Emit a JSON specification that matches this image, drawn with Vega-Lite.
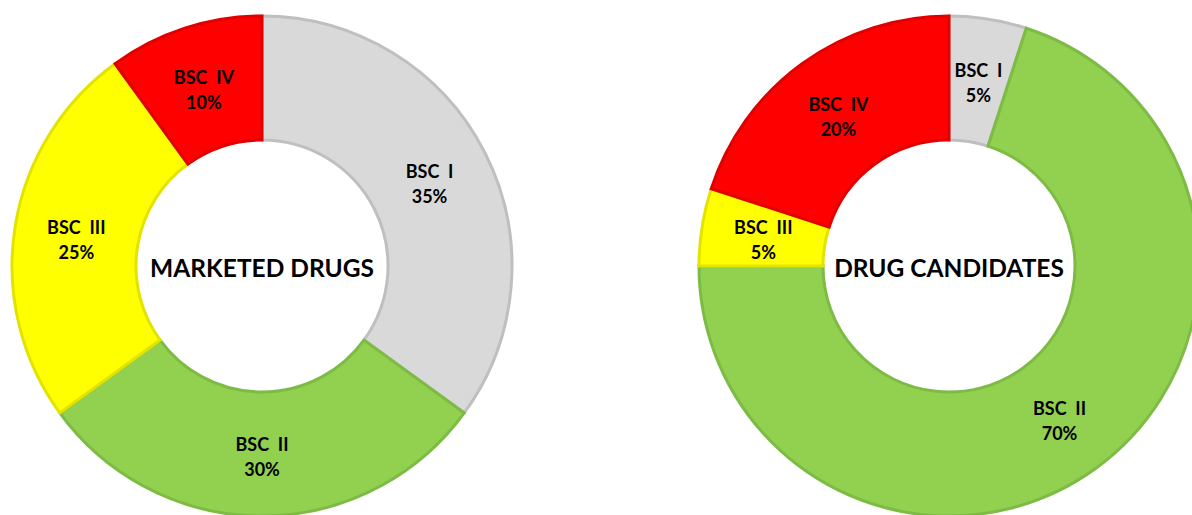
{
  "$schema": "https://vega.github.io/schema/vega-lite/v6.json",
  "padding": 0,
  "background": "white",
  "spacing": 163,
  "config": {
    "view": {"stroke": null},
    "text": {"font": "Lato", "fontWeight": "bold", "color": "#000000"}
  },
  "datasets": {
    "marketed": [
      {"cls": "BSC\u00a0\u00a0I", "share": 0.35},
      {"cls": "BSC\u00a0\u00a0II", "share": 0.30},
      {"cls": "BSC\u00a0\u00a0III", "share": 0.25},
      {"cls": "BSC\u00a0\u00a0IV", "share": 0.10}
    ],
    "candidates": [
      {"cls": "BSC\u00a0\u00a0I", "share": 0.05},
      {"cls": "BSC\u00a0\u00a0II", "share": 0.70},
      {"cls": "BSC\u00a0\u00a0III", "share": 0.05},
      {"cls": "BSC\u00a0\u00a0IV", "share": 0.20}
    ]
  },
  "hconcat": [
    {
      "width": 524,
      "height": 532,
      "layer": [
        {
          "data": {"name": "marketed"},
          "mark": {"type": "arc", "outerRadius": 250, "innerRadius": 126, "strokeWidth": 3},
          "encoding": {
            "theta": {"field": "share", "type": "quantitative", "stack": true},
            "order": {"field": "cls", "sort": "ascending"},
            "fill": {"field": "cls", "type": "nominal", "legend": null,
              "scale": {"domain": ["BSC\u00a0\u00a0I", "BSC\u00a0\u00a0II", "BSC\u00a0\u00a0III", "BSC\u00a0\u00a0IV"], "range": ["#D9D9D9", "#92D050", "#FFFF00", "#FF0000"]}},
            "stroke": {"field": "cls", "type": "nominal", "legend": null,
              "scale": {"domain": ["BSC\u00a0\u00a0I", "BSC\u00a0\u00a0II", "BSC\u00a0\u00a0III", "BSC\u00a0\u00a0IV"], "range": ["#BFBFBF", "#7DBB45", "#E3E300", "#E00000"]}}
          }
        },
        {
          "data": {"name": "marketed"},
          "mark": {"type": "text", "radius": 188, "dy": -8, "fontSize": 18},
          "encoding": {
            "theta": {"field": "share", "type": "quantitative", "stack": true},
            "order": {"field": "cls", "sort": "ascending"},
            "text": {"field": "cls", "type": "nominal"}
          }
        },
        {
          "data": {"name": "marketed"},
          "mark": {"type": "text", "radius": 188, "dy": 17, "fontSize": 18},
          "encoding": {
            "theta": {"field": "share", "type": "quantitative", "stack": true},
            "order": {"field": "cls", "sort": "ascending"},
            "text": {"field": "share", "type": "quantitative", "format": ".0%"}
          }
        },
        {
          "data": {"values": [{"title": "MARKETED DRUGS"}]},
          "mark": {"type": "text", "fontSize": 24.5, "dy": 4},
          "encoding": {"text": {"field": "title", "type": "nominal"}}
        }
      ]
    },
    {
      "width": 524,
      "height": 532,
      "layer": [
        {
          "data": {"name": "candidates"},
          "mark": {"type": "arc", "outerRadius": 250, "innerRadius": 126, "strokeWidth": 3},
          "encoding": {
            "theta": {"field": "share", "type": "quantitative", "stack": true},
            "order": {"field": "cls", "sort": "ascending"},
            "fill": {"field": "cls", "type": "nominal", "legend": null,
              "scale": {"domain": ["BSC\u00a0\u00a0I", "BSC\u00a0\u00a0II", "BSC\u00a0\u00a0III", "BSC\u00a0\u00a0IV"], "range": ["#D9D9D9", "#92D050", "#FFFF00", "#FF0000"]}},
            "stroke": {"field": "cls", "type": "nominal", "legend": null,
              "scale": {"domain": ["BSC\u00a0\u00a0I", "BSC\u00a0\u00a0II", "BSC\u00a0\u00a0III", "BSC\u00a0\u00a0IV"], "range": ["#BFBFBF", "#7DBB45", "#E3E300", "#E00000"]}}
          }
        },
        {
          "data": {"name": "candidates"},
          "mark": {"type": "text", "radius": 188, "dy": -8, "fontSize": 18},
          "encoding": {
            "theta": {"field": "share", "type": "quantitative", "stack": true},
            "order": {"field": "cls", "sort": "ascending"},
            "text": {"field": "cls", "type": "nominal"}
          }
        },
        {
          "data": {"name": "candidates"},
          "mark": {"type": "text", "radius": 188, "dy": 17, "fontSize": 18},
          "encoding": {
            "theta": {"field": "share", "type": "quantitative", "stack": true},
            "order": {"field": "cls", "sort": "ascending"},
            "text": {"field": "share", "type": "quantitative", "format": ".0%"}
          }
        },
        {
          "data": {"values": [{"title": "DRUG CANDIDATES"}]},
          "mark": {"type": "text", "fontSize": 24.5, "dy": 4},
          "encoding": {"text": {"field": "title", "type": "nominal"}}
        }
      ]
    }
  ]
}
